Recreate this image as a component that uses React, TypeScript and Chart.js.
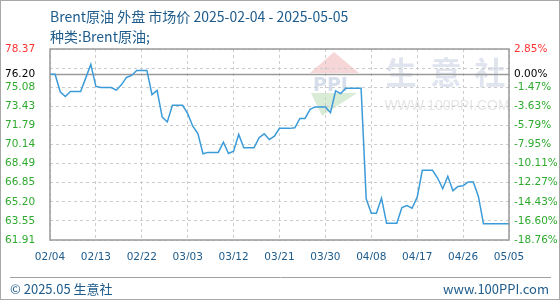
import React, { useEffect, useRef } from 'react';
import { Chart, registerables } from 'chart.js';

Chart.register(...registerables);

const TITLE = 'Brent原油 外盘 市场价 2025-02-04 - 2025-05-05';
const SUBTITLE = '种类:Brent原油;';
const FOOTER_LEFT = '© 2025.05 生意社';
const FOOTER_RIGHT = 'www.100PPI.com';

const X_LABELS = ['02/04', '02/13', '02/22', '03/03', '03/12', '03/21', '03/30', '04/08', '04/17', '04/26', '05/05'];

// daily prices from 2025-02-04 (index 0) to 2025-05-05 (index 90)
const PRICES = [
  76.20, 76.20, 74.68, 74.27, 74.70, 74.70, 74.70, 75.86, 77.04, 75.14,
  75.05, 75.05, 75.05, 74.82, 75.28, 75.92, 76.09, 76.52, 76.52, 76.52,
  74.44, 74.80, 72.50, 72.08, 73.52, 73.52, 73.52, 72.80, 71.72, 71.08,
  69.34, 69.46, 69.46, 69.46, 70.34, 69.36, 69.56, 71.01, 69.85, 69.85,
  69.85, 70.72, 71.06, 70.57, 70.86, 71.53, 71.53, 71.53, 71.58, 72.39,
  72.39, 73.17, 73.38, 73.38, 73.38, 72.88, 74.76, 74.53, 74.99, 74.99,
  74.99, 74.99, 65.46, 64.22, 64.22, 65.52, 63.35, 63.35, 63.35, 64.71,
  64.88, 64.65, 65.60, 67.92, 67.92, 67.92, 67.25, 66.33, 67.40, 66.16,
  66.53, 66.59, 66.91, 66.91, 65.66, 63.30, 63.30, 63.30, 63.30, 63.30,
  63.30,
];

const BASE = 76.20;
const BASE_LABEL = '76.20';
const BASE_PCT = '0.00%';
const Y_TICKS = [61.91, 63.55, 65.20, 66.85, 68.49, 70.14, 71.79, 73.43, 75.08, 76.73, 78.37];
const Y_LABELS = ['61.91', '63.55', '65.20', '66.85', '68.49', '70.14', '71.79', '73.43', '75.08', '', '78.37'];
const PCT_LABELS = ['-18.76%', '-16.60%', '-14.43%', '-12.27%', '-10.11%', '-7.95%', '-5.79%', '-3.63%', '-1.47%', '', '2.85%'];

const Y_MIN = Y_TICKS[0];
const Y_MAX = Y_TICKS[Y_TICKS.length - 1];

const BLUE_TEXT = '#1d5b8c';
const GREEN = '#2eaa2e';
const RED = '#ff3333';
const TICK_FONT = { family: 'DejaVu Sans', size: 10.5 };

const labelFor = (v: number, labels: string[], baseLabel: string) => {
  if (Math.abs(v - BASE) < 1e-6) return baseLabel;
  const i = Y_TICKS.findIndex((t) => Math.abs(t - v) < 1e-6);
  return i >= 0 ? labels[i] : '';
};

const colorFor = (v: number) => {
  if (Math.abs(v - BASE) < 1e-6) return '#000000';
  if (Math.abs(v - Y_MAX) < 1e-6) return RED;
  return GREEN;
};

const buildTicks = (scale: any) => {
  scale.ticks = [...Y_TICKS, BASE].sort((a, b) => a - b).map((v) => ({ value: v }));
};

const decorPlugin = {
  id: 'decor',
  beforeDraw(chart: any) {
    const { ctx } = chart;
    ctx.save();
    // watermark logo
    ctx.fillStyle = '#f6d6d6';
    ctx.beginPath();
    ctx.moveTo(334, 52);
    ctx.lineTo(359, 73);
    ctx.lineTo(310, 73);
    ctx.closePath();
    ctx.fill();
    ctx.fillStyle = '#d6ddeb';
    ctx.font = 'bold 19px "DejaVu Sans"';
    ctx.textBaseline = 'alphabetic';
    ctx.textAlign = 'left';
    ctx.fillText('PPI', 313, 91);
    ctx.fillStyle = '#d8ecd6';
    ctx.beginPath();
    ctx.moveTo(311, 93);
    ctx.lineTo(357, 93);
    ctx.lineTo(322, 116);
    ctx.closePath();
    ctx.fill();
    // watermark text
    ctx.fillStyle = '#dfe4ee';
    ctx.font = 'bold 31px "Noto Sans CJK SC"';
    ctx.textBaseline = 'middle';
    ctx.textAlign = 'center';
    ctx.fillText('生', 401, 72);
    ctx.fillText('意', 446, 72);
    ctx.fillText('社', 490, 72);
    ctx.fillStyle = '#e6e6e6';
    ctx.font = '14px "Liberation Sans"';
    ctx.fillText('WWW.100PPI.COM', 447, 106);
    ctx.restore();
  },
  beforeDatasetsDraw(chart: any) {
    const { ctx, chartArea } = chart;
    const y = Math.round(chart.scales.y.getPixelForValue(BASE)) + 0.5;
    ctx.save();
    ctx.strokeStyle = '#9a9a9a';
    ctx.lineWidth = 1.5;
    ctx.beginPath();
    ctx.moveTo(chartArea.left, y);
    ctx.lineTo(chartArea.right, y);
    ctx.stroke();
    ctx.restore();
  },
  afterDraw(chart: any) {
    const { ctx, chartArea, width, height } = chart;
    ctx.save();
    // plot frame
    ctx.strokeStyle = '#9a9a9a';
    ctx.lineWidth = 1.5;
    ctx.strokeRect(chartArea.left, chartArea.top, chartArea.right - chartArea.left, chartArea.bottom - chartArea.top);
    // titles
    ctx.fillStyle = BLUE_TEXT;
    ctx.textAlign = 'left';
    ctx.textBaseline = 'middle';
    ctx.font = '14px "Noto Sans CJK SC"';
    ctx.fillText(TITLE, 50, 17);
    ctx.fillText(SUBTITLE, 50, 37);
    // footer
    ctx.strokeStyle = '#a0a0a0';
    ctx.lineWidth = 1;
    ctx.beginPath();
    ctx.moveTo(10, 277.5);
    ctx.lineTo(551, 277.5);
    ctx.stroke();
    ctx.font = '13px "Noto Sans CJK SC"';
    ctx.fillText(FOOTER_LEFT, 10, 289);
    ctx.textAlign = 'right';
    ctx.fillText(FOOTER_RIGHT, 549, 289);
    // outer border
    ctx.strokeStyle = '#a8a8a8';
    ctx.strokeRect(0.5, 0.5, width - 1, height - 1);
    ctx.restore();
  },
};

export default function App() {
  const ref = useRef<HTMLCanvasElement>(null);

  useEffect(() => {
    document.body.style.margin = '0';
    const canvas = ref.current;
    if (!canvas) return;
    const chart = new Chart(canvas, {
      type: 'line',
      data: {
        datasets: [
          {
            data: PRICES.map((y, i) => ({ x: i, y })),
            borderColor: '#3b9bd9',
            borderWidth: 1.5,
            pointRadius: 0,
            tension: 0,
            fill: false,
          },
        ],
      },
      options: {
        animation: false,
        responsive: false,
        devicePixelRatio: 1,
        layout: { padding: { top: 49, left: 5, right: 0, bottom: 40 } },
        plugins: {
          legend: { display: false },
          tooltip: { enabled: false },
        },
        scales: {
          x: {
            type: 'linear',
            min: 0,
            max: 90,
            afterFit: (s: any) => { s.height = 20; },
            afterBuildTicks: (s: any) => {
              s.ticks = X_LABELS.map((_, i) => ({ value: i * 9 }));
            },
            ticks: {
              autoSkip: false,
              maxRotation: 0,
              padding: 11,
              color: BLUE_TEXT,
              font: TICK_FONT,
              callback: (v: any) => X_LABELS[Math.round(Number(v) / 9)],
            },
            grid: { color: '#cccccc', drawTicks: false, lineWidth: 1 },
            border: { display: false, dash: [3, 3] },
          },
          y: {
            type: 'linear',
            position: 'left',
            min: Y_MIN,
            max: Y_MAX,
            afterFit: (s: any) => { s.width = 45; },
            afterBuildTicks: buildTicks,
            ticks: {
              autoSkip: false,
              crossAlign: 'far',
              padding: 5,
              font: TICK_FONT,
              color: (c: any) => colorFor(c.tick.value),
              callback: (v: any) => labelFor(Number(v), Y_LABELS, BASE_LABEL),
            },
            grid: {
              drawTicks: false,
              lineWidth: 1,
              color: (c: any) =>
                c.tick && Math.abs(c.tick.value - BASE) < 1e-6 ? 'rgba(0,0,0,0)' : '#cccccc',
            },
            border: { display: false, dash: [3, 3] },
          },
          y2: {
            type: 'linear',
            position: 'right',
            min: Y_MIN,
            max: Y_MAX,
            afterFit: (s: any) => { s.width = 51; },
            afterBuildTicks: buildTicks,
            ticks: {
              autoSkip: false,
              padding: 5,
              font: TICK_FONT,
              color: (c: any) => colorFor(c.tick.value),
              callback: (v: any) => labelFor(Number(v), PCT_LABELS, BASE_PCT),
            },
            grid: { display: false, drawTicks: false },
            border: { display: false },
          },
        },
      },
      plugins: [decorPlugin],
    });
    return () => chart.destroy();
  }, []);

  return (
    <div style={{ width: 560, height: 300 }}>
      <canvas ref={ref} width={560} height={300} />
    </div>
  );
}
